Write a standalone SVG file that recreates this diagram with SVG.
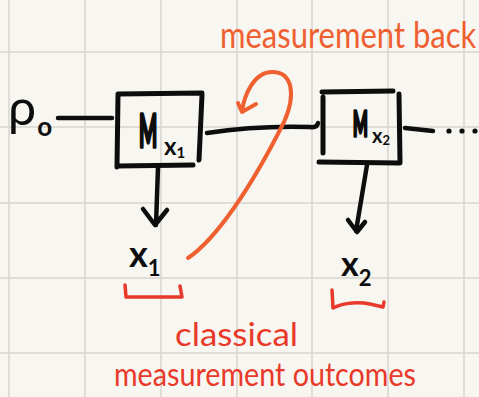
<svg xmlns="http://www.w3.org/2000/svg" width="479" height="397" viewBox="0 0 479 397">
  <defs>
    <style>
      .paper { fill: #f8f6f1; }
      .grid { stroke: #d8d5cf; stroke-width: 1.5; fill: none; }
      .ink { stroke: #0d0d0d; stroke-width: 5; stroke-linecap: round; stroke-linejoin: round; fill: none; }
      .wire { stroke: #0d0d0d; stroke-width: 4.5; stroke-linecap: round; stroke-linejoin: round; fill: none; }
      .note { stroke: #ef6031; stroke-width: 4; stroke-linecap: round; stroke-linejoin: round; fill: none; }
      .mark { stroke: #e8392a; stroke-width: 3.5; stroke-linecap: round; stroke-linejoin: round; fill: none; }
      .lbl { font-family: "Lato", "Liberation Sans", sans-serif; fill: #0d0d0d; font-weight: 700; }
      .thin { font-weight: 400; }
      .heavy { stroke: #0d0d0d; stroke-width: 3.5; stroke-linejoin: round; }
      .orange { font-family: "Lato", "Liberation Sans", sans-serif; fill: #ef6031; }
      .red { font-family: "Lato", "Liberation Sans", sans-serif; fill: #e8392a; }
    </style>
  </defs>

  <!-- squared paper -->
  <rect class="paper" x="0" y="0" width="479" height="397"/>
  <g id="grid" class="grid">
    <path d="M9,0V397M85,0V397M161,0V397M237,0V397M312,0V397M388,0V397M464,0V397"/>
    <path d="M0,52H479M0,127H479M0,203H479M0,278H479M0,353H479"/>
  </g>

  <!-- input state -->
  <g id="rho0">
    <text class="lbl" x="8" y="125" font-size="50"><tspan class="thin">ρ</tspan><tspan font-size="26" dx="1" dy="11">o</tspan></text>
  </g>

  <!-- first measurement -->
  <g id="m1">
    <path class="ink" d="M118,94 L202,93 M118,95 L117,167 M202,95 L199,160 M117,166 L193,165"/>
    <text class="lbl heavy" transform="translate(139,147) scale(0.42,1)" font-size="46">M</text>
    <text class="lbl" x="164" y="155" font-size="24">x<tspan font-size="15" dy="3">1</tspan></text>
  </g>

  <!-- second measurement -->
  <g id="m2">
    <path class="ink" d="M322,92 L393,91 M323,97 L323,153 M399,94 L400,162 M319,162 L400,163"/>
    <text class="lbl heavy" transform="translate(353,136) scale(0.46,1)" font-size="34">M</text>
    <text class="lbl" x="372" y="143" font-size="20">x<tspan font-size="13" dy="2">2</tspan></text>
  </g>

  <!-- outcomes -->
  <g id="x1">
    <text class="lbl" x="129" y="267" font-size="36">x<tspan font-size="22" dy="9">1</tspan></text>
  </g>
  <g id="x2">
    <text class="lbl" x="341" y="276" font-size="34">x<tspan font-size="22" dy="10">2</tspan></text>
  </g>

  <!-- wires and arrows -->
  <g id="connectors">
    <path class="wire" d="M58,118 L112,118"/>
    <path class="wire" d="M207,133 C240,128 280,126 310,127 Q317,128 318,123"/>
    <path class="wire" d="M405,128 L433,131"/>
    <g fill="#0d0d0d">
      <circle cx="449" cy="131" r="2.6"/>
      <circle cx="462" cy="131" r="2.6"/>
      <circle cx="475" cy="131" r="2.6"/>
    </g>
    <path class="wire" d="M158,167 L156,225 M143,209 L155,225 L167,210"/>
    <path class="wire" d="M367,165 L356,231 M348,220 L357,232 L365,222"/>
    <!-- back-action loop -->
    <path class="note" d="M188,258 C215,240 250,190 284,122 C296,95 293,72 272,72 C254,72 244,95 242,112 M242,112 L238,103 M242,112 L256,104"/>
  </g>

  <!-- annotations -->
  <g id="backaction-label">
    <text class="orange" transform="translate(220,48) scale(1,1.2)" font-size="31">measurement back</text>
  </g>
  <g id="outcome-brackets">
    <path class="mark" d="M125,285 L126,297 L182,297 L180,286"/>
    <path class="mark" d="M332,290 L333,308 C345,302 360,302 370,304 L383,307 L384,302"/>
  </g>
  <g id="outcome-label">
    <text class="red" x="175" y="346" font-size="32" textLength="123" lengthAdjust="spacingAndGlyphs">classical</text>
    <text class="red" x="114" y="386" font-size="32" textLength="302" lengthAdjust="spacingAndGlyphs">measurement outcomes</text>
  </g>
</svg>
